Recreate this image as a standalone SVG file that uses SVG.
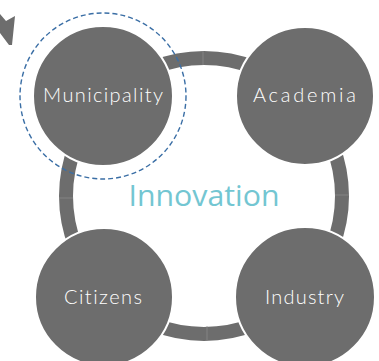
<svg xmlns="http://www.w3.org/2000/svg" width="379" height="361" viewBox="0 0 379 361">
<style>
.node{fill:#6d6d6d;stroke:#ffffff;stroke-width:2}
.lbl{font-family:Lato,"Liberation Sans",sans-serif;font-weight:300;font-size:20px;fill:#ffffff;text-anchor:middle;letter-spacing:1px}
.ring{fill:none;stroke:#6d6d6d;stroke-width:14}
.seam{stroke:#8c8c8c;stroke-width:0.7}
</style>
<rect width="379" height="361" fill="#ffffff"/>
<g id="connectors">
<path class="ring" d="M204,58 A138,138 0 0 1 342,196"/>
<path class="ring" d="M342,196 A138,138 0 0 1 204,334"/>
<path class="ring" d="M204,334 A138,138 0 0 1 66,196"/>
<path class="ring" d="M66,196 A138,138 0 0 1 204,58"/>
<line class="seam" x1="203" y1="51" x2="203" y2="65"/>
<line class="seam" x1="59" y1="198" x2="73" y2="198"/>
<line class="seam" x1="335" y1="195" x2="349" y2="195"/>
<line class="seam" x1="207" y1="326" x2="207" y2="340"/>
<polygon points="0,14 6,21 15,16 12,45 9,45 0,33" fill="#6d6d6d"/>
</g>
<text x="204" y="206" font-family="'Open Sans','Liberation Sans',sans-serif" font-size="30" fill="#73c6d2" text-anchor="middle" textLength="151" lengthAdjust="spacingAndGlyphs">Innovation</text>
<g id="municipality">
<circle class="node" cx="103" cy="96" r="70"/>
<circle cx="103" cy="96" r="83" fill="none" stroke="#3a6ea5" stroke-width="1.4" stroke-dasharray="5,3"/>
<text class="lbl" x="103.5" y="102" textLength="121">Municipality</text>
</g>
<g id="academia">
<circle class="node" cx="305" cy="96" r="69"/>
<text class="lbl" x="305" y="102" textLength="104">Academia</text>
</g>
<g id="citizens">
<circle class="node" cx="104" cy="297" r="69"/>
<text class="lbl" x="103.5" y="304" textLength="79">Citizens</text>
</g>
<g id="industry">
<circle class="node" cx="305" cy="297" r="70"/>
<text class="lbl" x="305" y="304" textLength="80">Industry</text>
</g>
</svg>
